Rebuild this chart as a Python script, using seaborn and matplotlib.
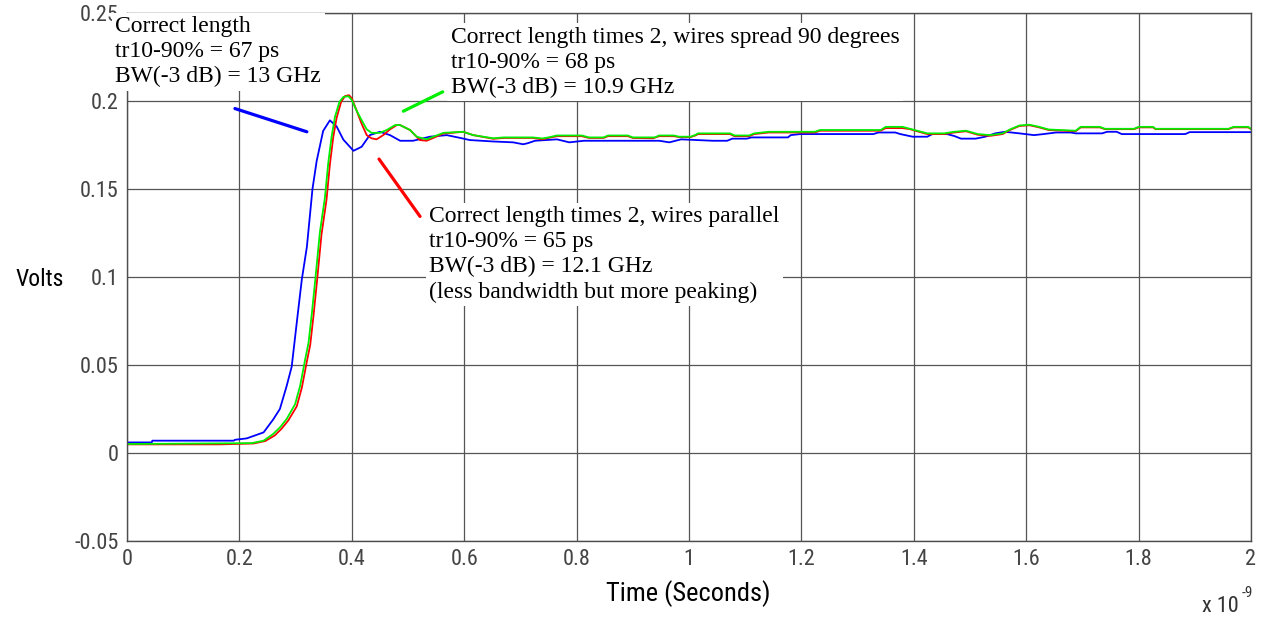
import numpy as np
import pandas as pd
import seaborn as sns
import matplotlib.pyplot as plt
from matplotlib import font_manager

# time in ns (axis shows x 10^-9 s), volts
blue_t = [0.0, 0.044, 0.045, 0.19, 0.192, 0.213, 0.243, 0.260, 0.272, 0.284, 0.293, 0.302, 0.311,
          0.320, 0.330, 0.3375, 0.349, 0.361, 0.373, 0.385, 0.403, 0.4175, 0.432, 0.450, 0.468,
          0.486, 0.509, 0.539, 0.569, 0.593, 0.610, 0.651, 0.687, 0.705, 0.713, 0.726, 0.765,
          0.787, 0.813, 0.947, 0.965, 0.986, 1.042, 1.068, 1.077, 1.103, 1.111, 1.176, 1.181,
          1.198, 1.328, 1.337, 1.367, 1.376, 1.398, 1.424, 1.433, 1.459, 1.472, 1.484, 1.510,
          1.527, 1.545, 1.562, 1.588, 1.614, 1.631, 1.653, 1.679, 1.688, 1.735, 1.744, 1.761,
          1.770, 1.883, 1.891, 2.0]
blue_v = [0.0060, 0.0060, 0.0070, 0.0070, 0.0075, 0.0083, 0.0117, 0.019, 0.025, 0.038, 0.049, 0.074,
          0.0985, 0.117, 0.150, 0.166, 0.183, 0.189, 0.1855, 0.178, 0.1717, 0.174, 0.1806, 0.1825,
          0.1806, 0.1774, 0.1774, 0.1797, 0.1806, 0.179, 0.1778, 0.177, 0.1765, 0.1754, 0.1760,
          0.1774, 0.1782, 0.1765, 0.1774, 0.1774, 0.1765, 0.1782, 0.1774, 0.1774, 0.1786, 0.1786,
          0.1793, 0.1793, 0.1806, 0.1812, 0.1812, 0.1821, 0.1821, 0.1812, 0.1797, 0.1797, 0.1812,
          0.1812, 0.1801, 0.1786, 0.1786, 0.1797, 0.1816, 0.1825, 0.1816, 0.1806, 0.1812, 0.1821,
          0.1821, 0.1816, 0.1816, 0.1825, 0.1825, 0.1812, 0.1812, 0.1823, 0.1823]

green_t = [0.0, 0.222, 0.243, 0.260, 0.272, 0.284, 0.299, 0.308, 0.317, 0.323, 0.329, 0.335, 0.343,
           0.352, 0.358, 0.364, 0.370, 0.378, 0.385, 0.394, 0.400, 0.408, 0.4175, 0.4265, 0.435,
           0.450, 0.462, 0.477, 0.486, 0.5036, 0.5155, 0.533, 0.545, 0.563, 0.598, 0.616, 0.652,
           0.670, 0.722, 0.739, 0.750, 0.765, 0.809, 0.822, 0.848, 0.856, 0.891, 0.900, 0.939,
           0.947, 0.973, 0.982, 1.003, 1.012, 1.016, 1.073, 1.081, 1.107, 1.116, 1.142, 1.224,
           1.233, 1.341, 1.350, 1.380, 1.393, 1.406, 1.424, 1.454, 1.472, 1.493, 1.514, 1.536,
           1.558, 1.571, 1.588, 1.606, 1.623, 1.640, 1.688, 1.697, 1.731, 1.740, 1.792, 1.800,
           1.826, 1.830, 1.960, 1.969, 1.995, 2.0]
green_v = [0.0051, 0.0056, 0.0070, 0.0108, 0.0145, 0.0193, 0.0277, 0.0381, 0.0532, 0.0627, 0.0797,
           0.0985, 0.125, 0.1448, 0.1646, 0.1797, 0.191, 0.1995, 0.2023, 0.2027, 0.2005, 0.1948,
           0.1891, 0.1839, 0.1819, 0.1819, 0.1835, 0.1863, 0.1863, 0.1835, 0.1797, 0.1782, 0.1797,
           0.1819, 0.1825, 0.1806, 0.1788, 0.1793, 0.1793, 0.1787, 0.1793, 0.1804, 0.1804, 0.1793,
           0.1793, 0.1804, 0.1804, 0.1793, 0.1793, 0.1804, 0.1804, 0.1797, 0.1797, 0.1808, 0.1816,
           0.1816, 0.1804, 0.1804, 0.1816, 0.1825, 0.1825, 0.1835, 0.1835, 0.1853, 0.1853, 0.1842,
           0.1831, 0.1816, 0.1816, 0.1825, 0.1831, 0.1812, 0.1806, 0.1816, 0.1838, 0.1861, 0.1865,
           0.1853, 0.1838, 0.1831, 0.1853, 0.1853, 0.1842, 0.1842, 0.1853, 0.1853, 0.1842, 0.1842,
           0.1853, 0.1853, 0.1842]

red_t = [0.0, 0.165, 0.225, 0.246, 0.263, 0.275, 0.287, 0.302, 0.311, 0.320, 0.326, 0.332, 0.338,
         0.346, 0.355, 0.361, 0.367, 0.373, 0.381, 0.388, 0.395, 0.400, 0.408, 0.4175, 0.4265, 0.435,
         0.444, 0.456, 0.468, 0.480, 0.486, 0.5036, 0.521, 0.533, 0.545, 0.563, 0.598, 0.616, 0.652,
         0.670, 0.722, 0.739, 0.750, 0.765, 0.809, 0.822, 0.848, 0.856, 0.891, 0.900, 0.936, 0.947,
         0.973, 0.982, 1.003, 1.012, 1.016, 1.073, 1.081, 1.107, 1.116, 1.142, 1.224, 1.233, 1.341,
         1.350, 1.380, 1.393, 1.406, 1.424, 1.454, 1.472, 1.493, 1.514, 1.536, 1.558, 1.571, 1.588,
         1.606, 1.623, 1.640, 1.688, 1.697, 1.731, 1.740, 1.792, 1.800, 1.826, 1.830, 1.960, 1.969,
         1.995, 2.0]
red_v = [0.0049, 0.0049, 0.0054, 0.0068, 0.0100, 0.0138, 0.0185, 0.0265, 0.0370, 0.0520, 0.0615,
         0.0785, 0.0975, 0.124, 0.1440, 0.1640, 0.1795, 0.1905, 0.1995, 0.2028, 0.2033, 0.2015,
         0.1950, 0.1870, 0.1806, 0.1788, 0.1782, 0.1806, 0.1839, 0.1863, 0.1863, 0.1835, 0.1778,
         0.1774, 0.1790, 0.1815, 0.1825, 0.1806, 0.1785, 0.1790, 0.1790, 0.1782, 0.1790, 0.1800,
         0.1800, 0.1790, 0.1790, 0.1800, 0.1800, 0.1790, 0.1788, 0.1800, 0.1800, 0.1795, 0.1795,
         0.1805, 0.1812, 0.1812, 0.1800, 0.1800, 0.1812, 0.1821, 0.1821, 0.1831, 0.1831, 0.1846,
         0.1846, 0.1840, 0.1828, 0.1812, 0.1812, 0.1821, 0.1828, 0.1808, 0.1802, 0.1812, 0.1835,
         0.1858, 0.1862, 0.1850, 0.1835, 0.1828, 0.1850, 0.1850, 0.1840, 0.1840, 0.1850, 0.1850,
         0.1840, 0.1840, 0.1850, 0.1850, 0.1840]

xticks = [0, 0.2, 0.4, 0.6, 0.8, 1, 1.2, 1.4, 1.6, 1.8, 2]
yticks = [-0.05, 0, 0.05, 0.1, 0.15, 0.2, 0.25]

# pointer lines from the notes to the traces
blue_ptr = ([0.192, 0.320], [0.1957, 0.1825])
green_ptr = ([0.4917, 0.5617], [0.1942, 0.2052])
red_ptr = ([0.4484, 0.5214], [0.1670, 0.1344])

note_blue = "Correct length\ntr10-90% = 67 ps\nBW(-3 dB) = 13 GHz"
note_green = "Correct length times 2, wires spread 90 degrees\ntr10-90% = 68 ps\nBW(-3 dB) = 10.9 GHz"
note_red = ("Correct length times 2, wires parallel\ntr10-90% = 65 ps\nBW(-3 dB) = 12.1 GHz\n"
            "(less bandwidth but more peaking)")

sns.set_style("white")

# look for a narrow sans for the axis text, fall back to Liberation Sans
cond = None
for f in font_manager.fontManager.ttflist:
    narrow = ("Narrow" in f.name or "Condensed" in f.name or f.stretch in ("condensed", "semi-condensed"))
    if narrow and f.style == "normal" and f.weight in (400, "normal", "regular"):
        if cond is None or "Roboto" in f.name:
            cond = f.fname
if cond is not None:
    tick_fp = font_manager.FontProperties(fname=cond, size=16)
    volt_fp = font_manager.FontProperties(fname=cond, size=17)
    time_fp = font_manager.FontProperties(fname=cond, size=19)
    sup_fp = font_manager.FontProperties(fname=cond, size=11)
else:
    tick_fp = font_manager.FontProperties(family="Liberation Sans", size=14)
    volt_fp = font_manager.FontProperties(family="Liberation Sans", size=15)
    time_fp = font_manager.FontProperties(family="Liberation Sans", size=16)
    sup_fp = font_manager.FontProperties(family="Liberation Sans", size=10)
plt.rcParams['font.family'] = ['Liberation Sans', 'DejaVu Sans']

fig = plt.figure(figsize=(12.69, 6.18), dpi=100)
ax = fig.add_axes([0.1001, 0.1246, 0.8857, 0.8544])

sns.lineplot(x=blue_t, y=blue_v, color="#0000ff", linewidth=1.3, ax=ax)
sns.lineplot(x=red_t, y=red_v, color="#ff0000", linewidth=1.3, ax=ax)
sns.lineplot(x=green_t, y=green_v, color="#00ee00", linewidth=1.3, ax=ax)

ax.plot(*blue_ptr, color="#0000ff", linewidth=2.3)
ax.plot(*green_ptr, color="#00ee00", linewidth=2.3)
ax.plot(*red_ptr, color="#ff0000", linewidth=2.3)

ax.set_xlim(0, 2)
ax.set_ylim(-0.05, 0.25)
ax.set_xticks(xticks)
ax.set_yticks(yticks)
ax.set_xticklabels(["%g" % v for v in xticks])
ax.set_yticklabels(["%g" % v for v in yticks])
ax.tick_params(length=0, pad=6, labelcolor="#444444")
for lbl in ax.get_xticklabels() + ax.get_yticklabels():
    lbl.set_fontproperties(tick_fp)
ax.grid(True, color="#555555", linewidth=0.9)
for s in ax.spines.values():
    s.set_color("#4d4d4d")
    s.set_linewidth(1.0)

ax.set_xlabel("Time (Seconds)", fontproperties=time_fp, color="black", va="top")
ax.set_ylabel("Volts", fontproperties=volt_fp, color="black", rotation=0, ha="center", va="center")
ax.xaxis.set_label_coords(0.4995, -0.074)
ax.yaxis.set_label_coords(-0.0775, 0.496)

fig.text(0.947, 0.0102, "x 10", fontproperties=tick_fp, color="#333333", ha="left", va="baseline")
fig.text(0.9785, 0.0346, "-9", fontproperties=sup_fp, color="#333333", ha="left", va="baseline")

box = dict(facecolor="white", edgecolor="none", boxstyle="square,pad=0.15")
for xx, yy, txt in [(-0.021, 0.2482, note_blue), (0.5765, 0.2422, note_green), (0.538, 0.1402, note_red)]:
    ax.text(xx, yy, txt, family="Liberation Serif", fontsize=17, color="black", ha="left", va="top",
            linespacing=1.25, bbox=box, zorder=10, clip_on=False)

fig.savefig("out.png", dpi=100)
